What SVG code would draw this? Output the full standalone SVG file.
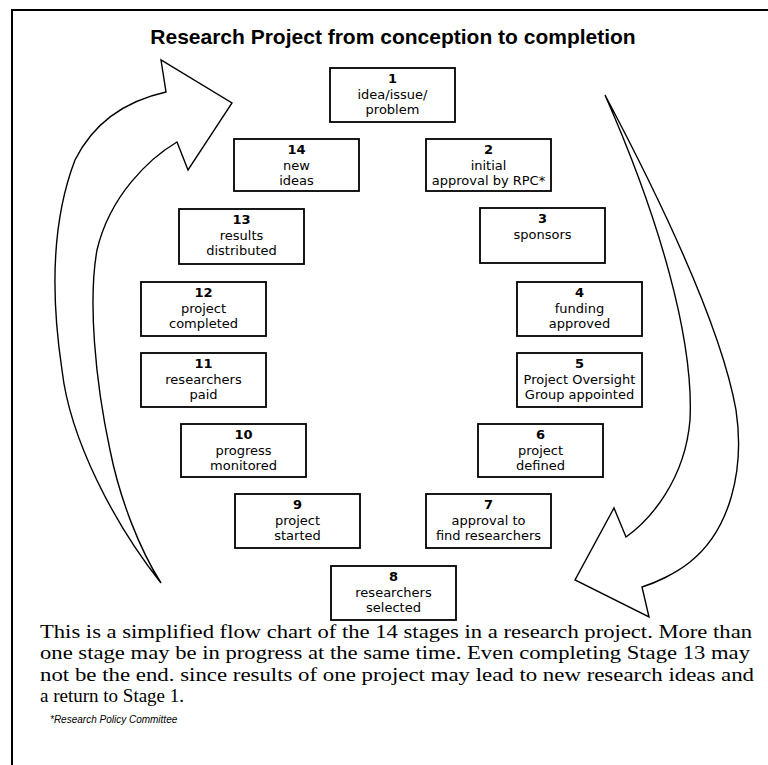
<svg xmlns="http://www.w3.org/2000/svg" width="768" height="765" viewBox="0 0 768 765">
<style>
.frame{fill:none;stroke:#000;stroke-width:2}
.box rect{fill:#fff;stroke:#000;stroke-width:1.8}
.box text{font-family:"DejaVu Sans",sans-serif;font-size:13px;text-anchor:middle;fill:#000}
.box text.n{font-weight:bold}
.arrow{fill:#fff;stroke:#000;stroke-width:1.4;stroke-linejoin:miter}
.title{font-family:"Liberation Sans",Arial,sans-serif;font-weight:bold;font-size:21px;text-anchor:middle}
.para{font-family:"Liberation Serif","Times New Roman",serif;font-size:19px}
.foot{font-family:"Liberation Sans",Arial,sans-serif;font-style:italic;font-size:10px}
</style>
<rect width="768" height="765" fill="#fff"/>
<path class="frame" d="M12,765 L12,10 L768,10"/>
<text class="title" x="393" y="44">Research Project from conception to completion</text>
<g id="connectors">
<path class="arrow" d="M161,583 C115,525 70,440 62,370 C50,290 52,220 75,160 C95,120 130,100 166,92 L161,60 L232,103 L188,170 L177,142 C150,158 110,195 97,250 C88,300 95,380 110,450 C120,500 140,550 161,583 Z"/>
<path class="arrow" d="M605,95 C650,180 720,320 736,410 C745,470 730,530 690,562 C675,574 655,583 642,587 L649,617 L575,580 L614,508 L626,537 C650,520 685,480 690,420 C694,340 660,220 605,95 Z"/>
</g>
<g id="n1" class="box"><rect x="330" y="68" width="125" height="54"/><text class="n" x="392.5" y="83">1</text><text x="392.5" y="98.5">idea/issue/</text><text x="392.5" y="114">problem</text></g>
<g id="n14" class="box"><rect x="234" y="139" width="125" height="52"/><text class="n" x="296.5" y="154">14</text><text x="296.5" y="169.5">new</text><text x="296.5" y="185">ideas</text></g>
<g id="n2" class="box"><rect x="426" y="139" width="125" height="52"/><text class="n" x="488.5" y="154">2</text><text x="488.5" y="169.5">initial</text><text x="488.5" y="185">approval by RPC*</text></g>
<g id="n13" class="box"><rect x="179" y="209" width="125" height="55"/><text class="n" x="241.5" y="224">13</text><text x="241.5" y="239.5">results</text><text x="241.5" y="255">distributed</text></g>
<g id="n3" class="box"><rect x="480" y="208" width="125" height="55"/><text class="n" x="542.5" y="223">3</text><text x="542.5" y="239">sponsors</text></g>
<g id="n12" class="box"><rect x="141" y="282" width="125" height="54"/><text class="n" x="203.5" y="297">12</text><text x="203.5" y="312.5">project</text><text x="203.5" y="328">completed</text></g>
<g id="n4" class="box"><rect x="517" y="282" width="125" height="54"/><text class="n" x="579.5" y="297">4</text><text x="579.5" y="312.5">funding</text><text x="579.5" y="328">approved</text></g>
<g id="n11" class="box"><rect x="141" y="353" width="125" height="54"/><text class="n" x="203.5" y="368">11</text><text x="203.5" y="383.5">researchers</text><text x="203.5" y="399">paid</text></g>
<g id="n5" class="box"><rect x="517" y="353" width="125" height="54"/><text class="n" x="579.5" y="368">5</text><text x="579.5" y="383.5">Project Oversight</text><text x="579.5" y="399">Group appointed</text></g>
<g id="n10" class="box"><rect x="181" y="424" width="125" height="53"/><text class="n" x="243.5" y="439">10</text><text x="243.5" y="454.5">progress</text><text x="243.5" y="470">monitored</text></g>
<g id="n6" class="box"><rect x="478" y="424" width="125" height="53"/><text class="n" x="540.5" y="439">6</text><text x="540.5" y="454.5">project</text><text x="540.5" y="470">defined</text></g>
<g id="n9" class="box"><rect x="235" y="494" width="125" height="54"/><text class="n" x="297.5" y="509">9</text><text x="297.5" y="524.5">project</text><text x="297.5" y="540">started</text></g>
<g id="n7" class="box"><rect x="426" y="494" width="125" height="54"/><text class="n" x="488.5" y="509">7</text><text x="488.5" y="524.5">approval to</text><text x="488.5" y="540">find researchers</text></g>
<g id="n8" class="box"><rect x="331" y="566" width="125" height="54"/><text class="n" x="393.5" y="581">8</text><text x="393.5" y="596.5">researchers</text><text x="393.5" y="612">selected</text></g>
<text class="para" x="40" y="638" textLength="712" lengthAdjust="spacingAndGlyphs">This is a simplified flow chart of the 14 stages in a research project. More than</text>
<text class="para" x="40" y="659" textLength="710" lengthAdjust="spacingAndGlyphs">one stage may be in progress at the same time. Even completing Stage 13 may</text>
<text class="para" x="40" y="681" textLength="714" lengthAdjust="spacingAndGlyphs">not be the end. since results of one project may lead to new research ideas and</text>
<text class="para" x="40" y="702">a return to Stage 1.</text>
<text class="foot" x="50" y="723">*Research Policy Committee</text>
</svg>
